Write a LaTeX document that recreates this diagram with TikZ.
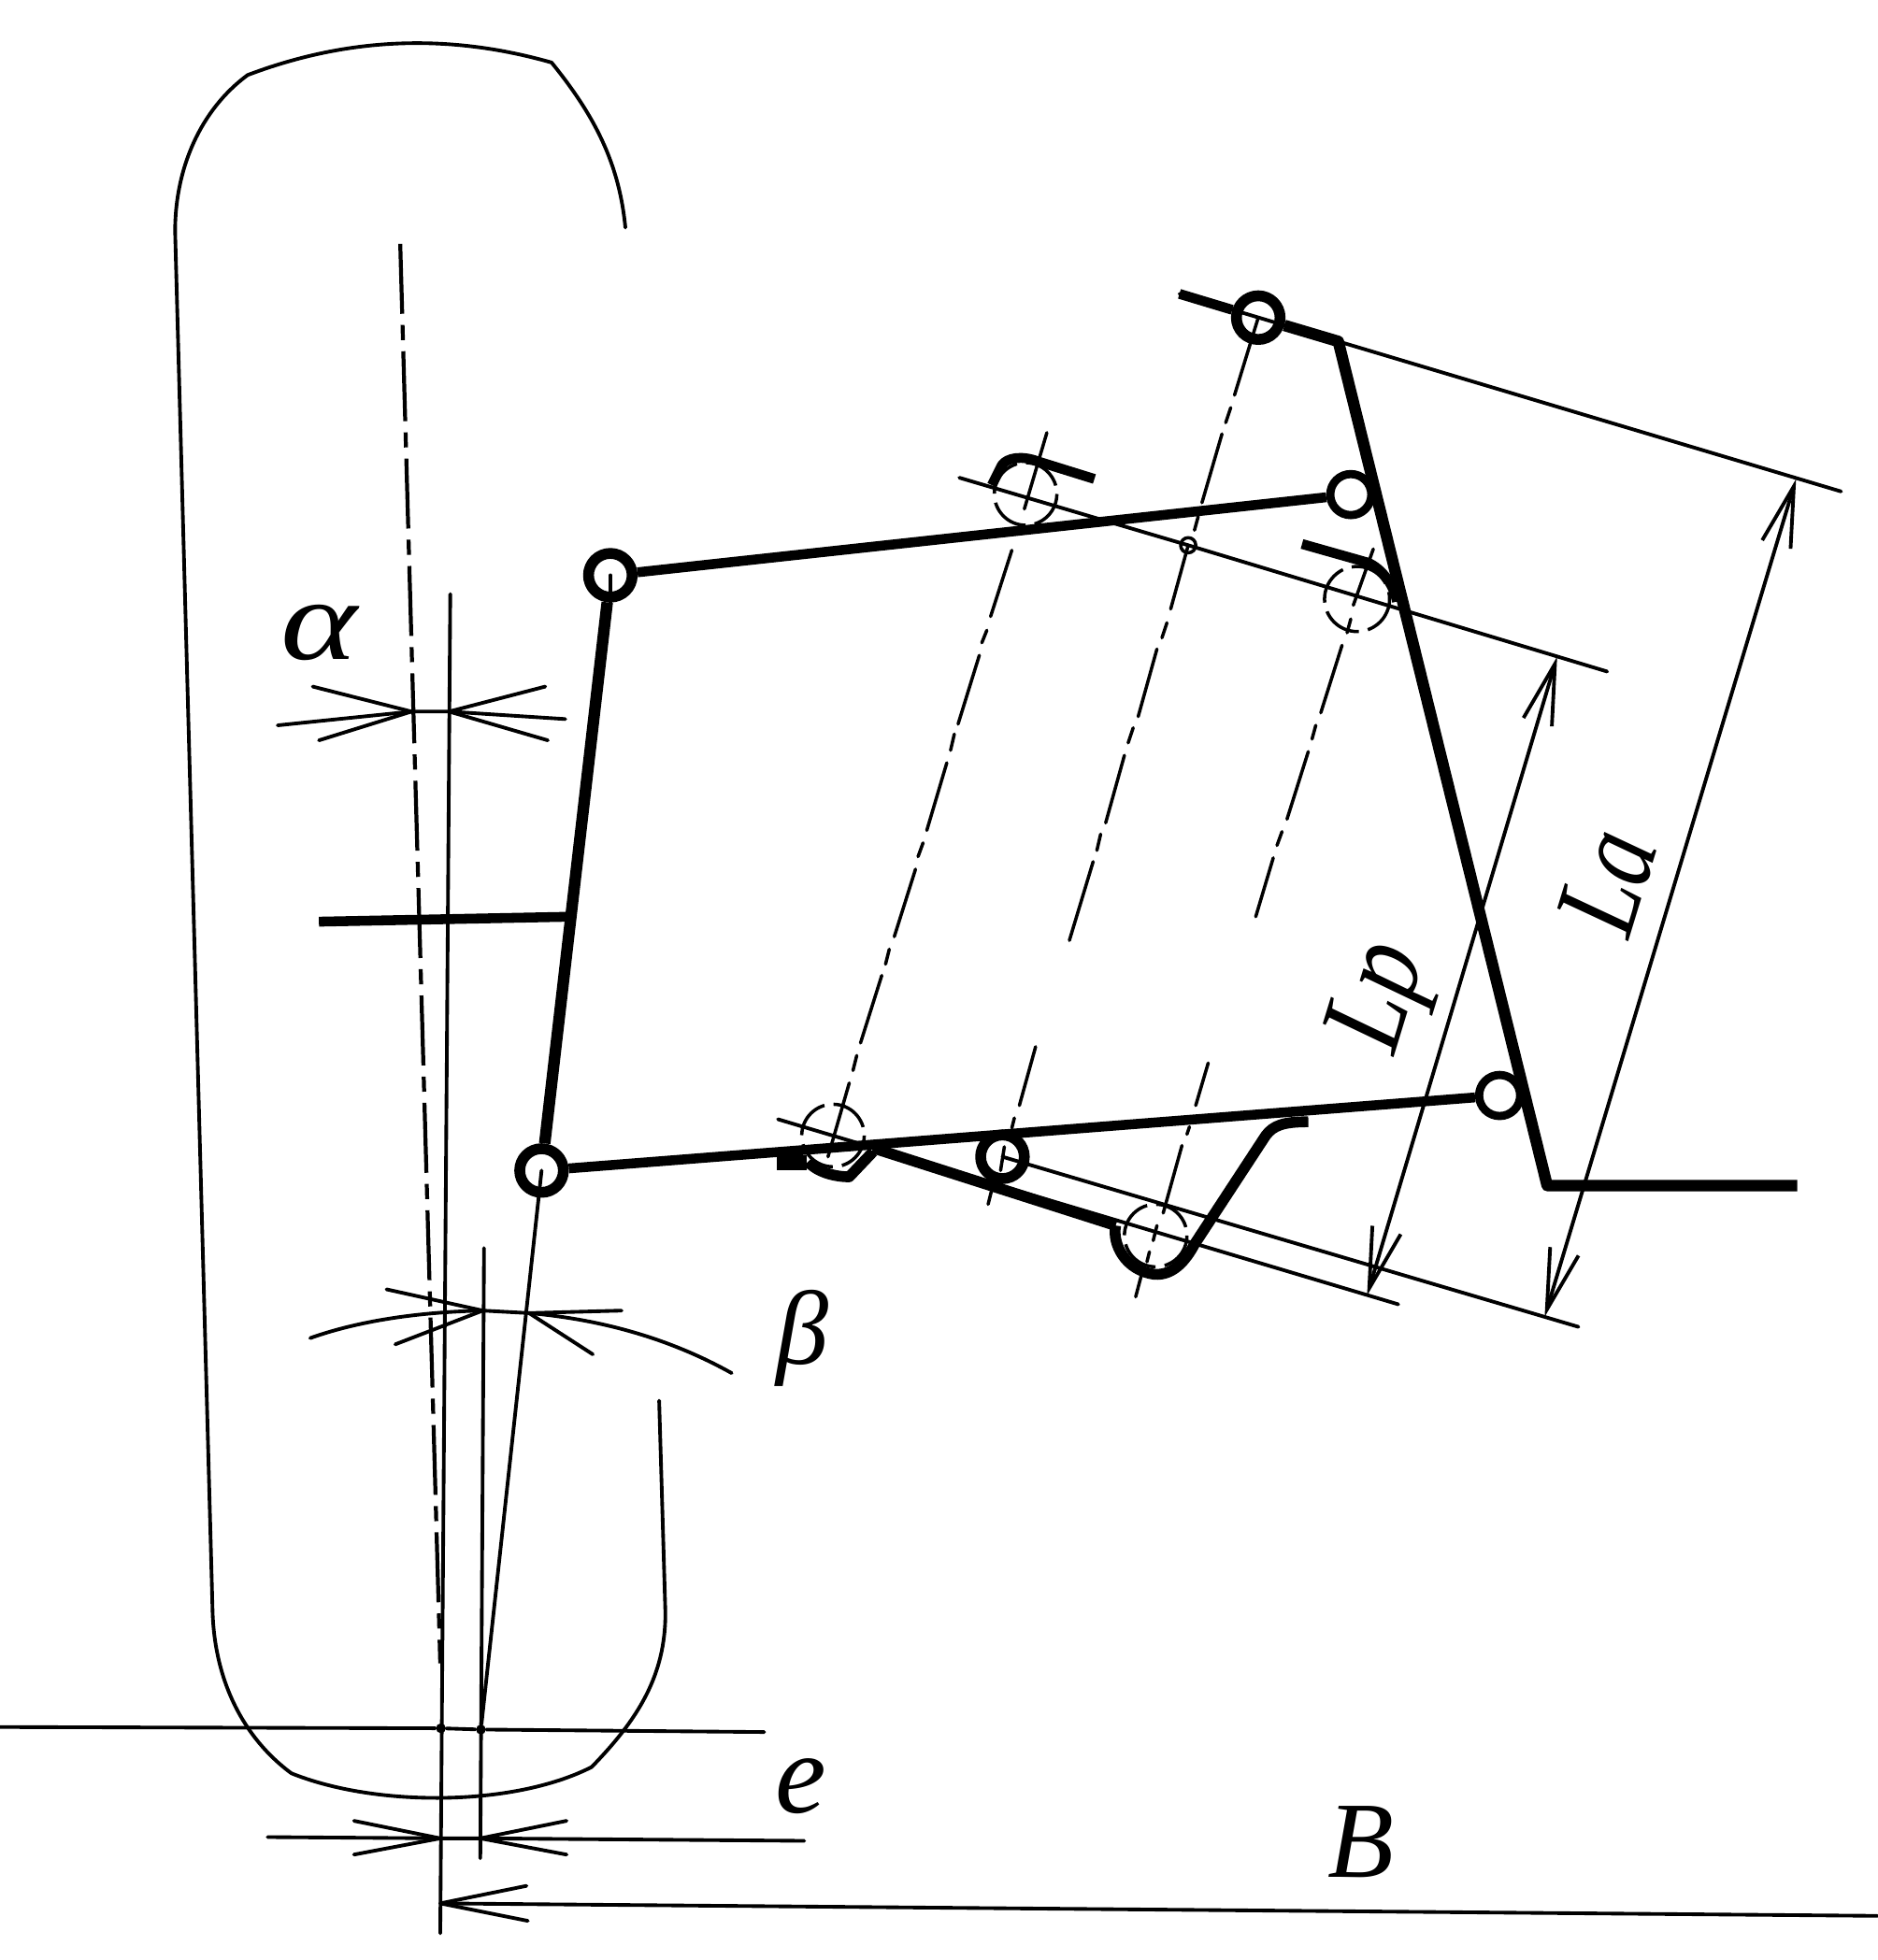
\documentclass[tikz,border=0pt]{standalone}
\usepackage{fontspec}
\setmainfont{Liberation Serif}
\usetikzlibrary{arrows.meta}

\begin{document}
\begin{tikzpicture}[x=0.1338mm,y=-0.1338mm,>={Straight Barb[length=18.5pt,width=9pt]},
                    line cap=round,line join=round]

  \tikzstyle{thinline}=[line width=1.1pt]
  \tikzstyle{axisline}=[line width=1pt]
  \tikzstyle{thickline}=[line width=3pt,line cap=butt]
  \tikzstyle{heavyline}=[line width=3.5pt,line cap=butt]
  \tikzstyle{wheelaxis}=[line width=1.2pt,line cap=butt,dash pattern=on 21.3pt off 3.4pt on 4.6pt off 3.4pt]
  \tikzstyle{seat}=[line width=1pt,line cap=butt,dash pattern=on 12.2pt off 2.8pt]
  \tikzstyle{bigjoint}=[circle,draw,line width=3.3pt,inner sep=0pt,minimum size=13.3pt]
  \tikzstyle{pivot}=[circle,draw,fill=white,line width=2.5pt,inner sep=0pt,minimum size=12.5pt]
  \tikzstyle{tick}=[circle,fill,inner sep=0pt,minimum size=3pt]
  \tikzstyle{letter}=[inner sep=0pt]

  \useasboundingbox (0,0) rectangle (1501,1567.3);

  \coordinate (wheelTop) at (320,195);
  \coordinate (wheelLow) at (352,1330);
  \coordinate (vertTop)  at (360,475);
  \coordinate (vertEnd)  at (352,1546);
  \coordinate (kingTop)  at (387,998);
  \coordinate (kingEnd)  at (384,1486);
  \coordinate (hubIn)    at (255,737);
  \coordinate (hubOut)   at (458,733);

  \coordinate (topEnd)   at (943,235);
  \coordinate (frameA)   at (1070,273);
  \coordinate (frameB)   at (1237,948);
  \coordinate (frameC)   at (1437,948);
  \coordinate (laTop)    at (1472,393);
  \coordinate (lpTopA)   at (767,382);
  \coordinate (lpTopB)   at (1285,537);
  \coordinate (lpLowA)   at (622,895);
  \coordinate (lpLowB)   at (1118,1043);
  \coordinate (laLow)    at (1262,1061);

  \draw[thinline] (500,182) .. controls (495,130) and (475,92) .. (441,50)
                  .. controls (360,27) and (280,29) .. (198,60)
                  .. controls (160,88) and (140,135) .. (140,185)
                  -- (170,1290) .. controls (172,1345) and (195,1390) .. (233,1418)
                  .. controls (300,1445) and (410,1445) .. (473,1413)
                  .. controls (510,1375) and (532,1340) .. (532,1290)
                  -- (527,1120);

  \draw[wheelaxis] (wheelTop) -- (wheelLow);
  \draw[thinline] (vertTop) -- (vertEnd);
  \draw[thinline] (kingTop) -- (kingEnd);

  \node[tick] (groundA) at (352.5,1382) {};
  \node[tick] (groundB) at (384.5,1383) {};
  \draw[thinline] (0,1381) -- (groundA) -- (groundB) -- (611,1385);

  \node[bigjoint] (armTL)  at (488,460)  {};
  \node[bigjoint] (armBL)  at (433,936)  {};
  \node[pivot]    (armTR)  at (1080,395.5) {};
  \node[pivot]    (armBR)  at (1199,876) {};
  \node[bigjoint] (upper)  at (1006,254) {};
  \node[bigjoint] (lower)  at (801.5,925) {};
  \node[circle,draw,line width=1pt,inner sep=0pt,minimum size=4.6pt] (mid) at (950,436) {};

  \draw[thinline] (armBL.center) -- (groundB);
  \draw[thinline] (armTL.center) -- (armTL.south);

  \draw[heavyline] (armTL) -- (armBL);
  \draw[thickline] (hubIn) -- (hubOut);
  \draw[thickline] (armTL) -- (armTR);
  \draw[thickline] (armBL) -- (armBR);
  \draw[thickline] (topEnd) -- (upper);
  \draw[heavyline] (upper) -- (frameA) -- (frameB) -- (frameC);
  \draw[thinline] (topEnd) -- (frameA) -- (laTop);

  \draw[thinline] (lpTopA) -- (mid.center) -- (lpTopB);
  \draw[thinline] (lpLowA) -- (lpLowB);
  \draw[thinline] (lower.center) -- (laLow);

  \draw[axisline] (upper.center) -- (987,316) (984,326) -- (980,338) (977,347) -- (961,402)
                  (958,413) -- (955,424) (mid.center) -- (936,487) (933,498) -- (929,510)
                  (925,519) -- (910,573) (906,582) -- (902,594) (899,604) -- (884,658)
                  (880,667) -- (877,680) (874,689) -- (855,752) (828,837) -- (815,884)
                  (811,894) -- (809,902) (803,917) -- (800,936) (793,951) -- (790,963);
  \draw[axisline] (837,346) -- (819,407) (809,440) -- (792,493) (789,504) -- (785,514)
                  (783,524) -- (766,579) (763,587) -- (760,600) (757,610) -- (741,664)
                  (738,674) -- (734,685) (732,695) -- (715,749) (711,759) -- (708,771)
                  (705,780) -- (688,834) (685,844) -- (682,856) (679,866) -- (662,925);
  \draw[axisline] (1098,439) -- (1082,484) (1080,495) -- (1077,506) (1073,516) -- (1056,570)
                  (1052,580) -- (1049,591) (1046,601) -- (1029,655) (1025,665) -- (1021,676)
                  (1018,686) -- (1004,733) (966,850) -- (956,884) (951,901) -- (949,907)
                  (945,916) -- (930,970) (925,980) -- (922,992) (919,1001) -- (917,1009)
                  (913,1018) -- (908,1037);

  \draw[seat] (820,395) circle (25);
  \draw[seat] (1085,479) circle (26);
  \draw[seat] (666,908) circle (25);
  \draw[seat] (924,988) circle (25);

  \draw[thickline] (875,383) -- (830,369) .. controls (817,364) and (805,366) .. (801,372) -- (793,388);
  \draw[thickline] (1041,435) -- (1094,450) .. controls (1105,455) and (1114,467) .. (1117,481);
  \draw[thickline,line width=3.3pt] (646,929) .. controls (652,936) and (665,941) .. (679,941) -- (698,921);
  \draw[thickline,line width=3.3pt] (698,918) -- (892,980);
  \draw[thickline,line width=3.3pt] (892,980) .. controls (889,995) and (900,1016) .. (923,1019)
                   .. controls (938,1020) and (948,1008) .. (955,995)
                   -- (1012,908) .. controls (1018,900) and (1026,897) .. (1046,897);
  \fill (621,924) rectangle (645,936);

  \draw[thinline,<->] (1245,525) -- (1093,1036);
  \draw[thinline,<->] (1436,383) -- (1235,1053);

  \coordinate (alphaA) at (329,569);
  \coordinate (alphaB) at (359,569);
  \draw[thinline] (222,580) -- (alphaA) -- (alphaB) -- (452,575);
  \draw[thinline] (250,549) -- (alphaA) -- (255,592);
  \draw[thinline] (436,549) -- (alphaB) -- (438,592);

  \coordinate (betaA) at (386,1048);
  \coordinate (betaB) at (423,1050);
  \draw[thinline] (248,1070) .. controls (290,1055) and (340,1049) .. (betaA) -- (betaB)
                  .. controls (480,1055) and (535,1070) .. (585,1098);
  \draw[thinline] (309,1031) -- (betaA) -- (316,1075);
  \draw[thinline] (betaB) -- (497,1048);
  \draw[thinline] (betaB) -- (474,1083);

  \coordinate (eA) at (352,1470);
  \coordinate (eB) at (384,1470);
  \draw[thinline] (214,1469) -- (eA) -- (eB) -- (643,1472);
  \draw[thinline] (283,1456) -- (eA) -- (283,1483);
  \draw[thinline] (453,1456) -- (eB) -- (453,1483);

  \coordinate (bEnd) at (352,1522);
  \draw[thinline] (1501,1532) -- (bEnd);
  \draw[thinline] (421,1508) -- (bEnd) -- (422,1536);

  \node[letter,font=\itshape\fontsize{37}{37}\selectfont] (alpha) at (255,506) {\scalebox{1.2}[0.95]{α}};
  \node[letter,font=\itshape\fontsize{32}{32}\selectfont] (beta)  at (642,1070) {β};
  \node[letter,font=\itshape\fontsize{35}{35}\selectfont] (ecc)   at (640,1428) {e};
  \node[letter,font=\itshape\fontsize{33}{33}\selectfont] (track) at (1088,1473) {B};
  \node[letter,font=\itshape\fontsize{36}{36}\selectfont,rotate=73] (la) at (1285,705) {\scalebox{0.8}[1]{La}};
  \node[letter,font=\itshape\fontsize{36}{36}\selectfont,rotate=73] (lp) at (1107,798) {\scalebox{0.85}[1]{Lp}};
\end{tikzpicture}
\end{document}
